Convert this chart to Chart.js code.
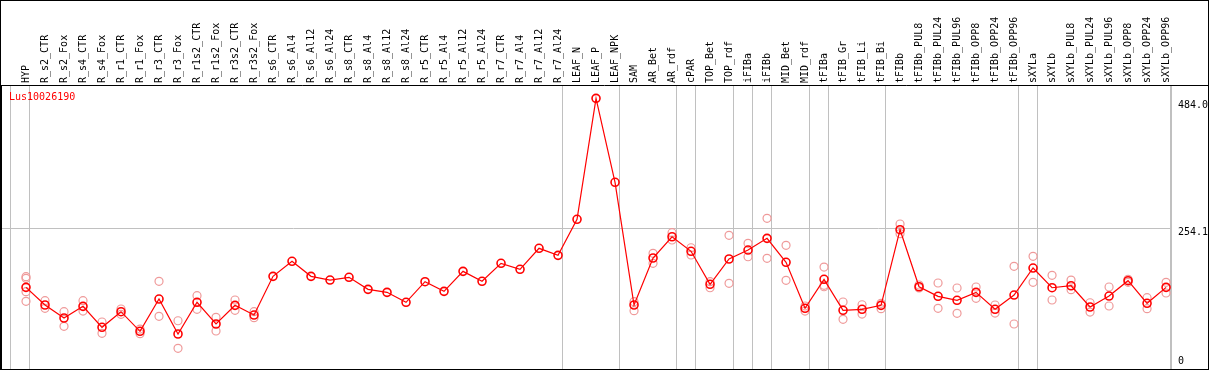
<!DOCTYPE html>
<html>
<head>
<meta charset="utf-8">
<script src="https://cdn.jsdelivr.net/npm/chart.js@4/dist/chart.umd.min.js"></script>
<style>
  html, body { margin: 0; padding: 0; background: #fff; }
  #wrap { width: 1209px; height: 370px; }
</style>
</head>
<body>
<div id="wrap"><canvas id="chart" width="1209" height="370"></canvas></div>
<script>
const seriesLabel = 'Lus10026190';

const categories = [
    'HYP', 'R_s2_CTR', 'R_s2_Fox', 'R_s4_CTR', 'R_s4_Fox', 'R_r1_CTR', 'R_r1_Fox',
    'R_r3_CTR', 'R_r3_Fox', 'R_r1s2_CTR', 'R_r1s2_Fox', 'R_r3s2_CTR', 'R_r3s2_Fox',
    'R_s6_CTR', 'R_s6_Al4', 'R_s6_Al12', 'R_s6_Al24', 'R_s8_CTR', 'R_s8_Al4',
    'R_s8_Al12', 'R_s8_Al24', 'R_r5_CTR', 'R_r5_Al4', 'R_r5_Al12', 'R_r5_Al24',
    'R_r7_CTR', 'R_r7_Al4', 'R_r7_Al12', 'R_r7_Al24', 'LEAF_N', 'LEAF_P', 'LEAF_NPK',
    'SAM', 'AR_Bet', 'AR_rdf', 'cPAR', 'TOP_Bet', 'TOP_rdf', 'iFIBa', 'iFIBb',
    'MID_Bet', 'MID_rdf', 'tFIBa', 'tFIB_Gr', 'tFIB_Li', 'tFIB_Bi', 'tFIBb',
    'tFIBb_PUL8', 'tFIBb_PUL24', 'tFIBb_PUL96', 'tFIBb_OPP8', 'tFIBb_OPP24', 'tFIBb_OPP96',
    'sXYLa', 'sXYLb', 'sXYLb_PUL8', 'sXYLb_PUL24', 'sXYLb_PUL96', 'sXYLb_OPP8',
    'sXYLb_OPP24', 'sXYLb_OPP96'
];

// mean expression per sample
const meanValues = [
    147.5, 115.6, 92.1, 113.2, 75.3, 103.5, 68.1, 126.4, 63.2, 120.5, 81.3, 115.0, 97.5,
    167.4, 194.5, 167.4, 160.7, 165.6, 143.9, 138.5, 120.5, 157.7, 140.3, 176.4, 158.4,
    190.9, 180.1, 218.0, 205.3, 270.4, 488.9, 337.2,
    115.6, 200.5, 238.9, 212.6, 153.0, 198.7, 214.9, 236.0, 192.7, 109.6,
    162.0, 106.0, 107.8, 115.0, 251.6, 148.6, 131.3, 124.1, 138.5, 107.8, 133.6,
    182.4, 146.8, 150.4, 112.0, 131.8, 159.5, 118.7, 147.5
];

// single replicates (empty where only one sample)
const replicateValues = [
    [166.7, 163.8, 139.6, 122.3], [123.4, 109.6], [103.5, 77.1], [123.4, 104.7],
    [84.9, 64.5], [108.4, 98.8], [72.2, 63.8], [158.4, 95.2], [87.2, 37.4],
    [132.4, 107.8], [93.4, 68.6], [124.6, 106.0], [103.5, 92.7],
    [], [], [], [], [], [], [], [], [], [], [], [], [], [], [], [], [], [], [],
    [121.6, 105.3], [209.0, 190.9], [246.2, 233.0], [219.0, 205.9], [157.7, 146.8],
    [241.5, 154.8], [227.0, 202.8], [272.2, 199.9], [223.4, 160.2], [113.8, 104.7],
    [184.2, 151.2, 148.6], [121.0, 89.8], [116.1, 99.3], [118.7, 108.9], [261.9, 244.4],
    [151.7, 146.3], [155.3, 109.6], [146.3, 100.6], [148.1, 127.7], [115.6, 101.1],
    [185.5, 81.3], [203.5, 156.6], [169.2, 124.6], [160.7, 143.2], [119.7, 102.9],
    [148.1, 113.8], [162.0, 156.6], [128.8, 108.9], [156.6, 137.3]
];

const yTickLabels = [0, 254.1, 484.0];
const groupEnds = [-1, 0, 28, 31, 34, 35, 37, 38, 39, 41, 42, 45, 52, 53, 60];

const monoFont = { family: 'DejaVu Sans Mono', size: 10 };

function noPadding(axis) {
    axis.paddingLeft = 0;
    axis.paddingRight = 0;
    axis.paddingTop = 0;
    axis.paddingBottom = 0;
}

// frame + series name, like the original viewer
const framePlugin = {
    id: 'frame',
    afterDraw(chart) {
        const { ctx, chartArea } = chart;
        ctx.save();
        ctx.strokeStyle = '#000';
        ctx.lineWidth = 1;
        ctx.strokeRect(0.5, 0.5, chart.width - 1, chart.height - 1);
        ctx.beginPath();
        ctx.moveTo(0, chartArea.top + 0.5);
        ctx.lineTo(chart.width, chartArea.top + 0.5);
        ctx.moveTo(chartArea.left + 0.5, chartArea.top);
        ctx.lineTo(chartArea.left + 0.5, chart.height);
        ctx.stroke();
        ctx.fillStyle = '#ff0000';
        ctx.font = '10px "DejaVu Sans Mono"';
        ctx.textBaseline = 'middle';
        ctx.fillText(chart.data.datasets[0].label, chartArea.left + 8, chartArea.top + 12);
        ctx.restore();
    }
};

const ctx = document.getElementById('chart').getContext('2d');
new Chart(ctx, {
    type: 'line',
    data: {
        datasets: [{
            label: seriesLabel,
            data: meanValues.map((v, i) => ({ x: i, y: v })),
            borderColor: '#ff0000',
            borderWidth: 1.2,
            pointRadius: 4,
            pointBorderWidth: 1.6,
            pointBorderColor: '#ff0000',
            pointBackgroundColor: 'rgba(0,0,0,0)',
            xAxisID: 'x',
            yAxisID: 'y'
        }, {
            label: 'replicates',
            data: replicateValues.flatMap((reps, i) => reps.map(v => ({ x: i, y: v }))),
            showLine: false,
            pointRadius: 4,
            pointBorderWidth: 1.2,
            pointBorderColor: '#ef9a9a',
            pointBackgroundColor: 'rgba(0,0,0,0)',
            xAxisID: 'x',
            yAxisID: 'y'
        }]
    },
    options: {
        responsive: false,
        animation: false,
        layout: { autoPadding: false, padding: { left: 1, bottom: 1 } },
        plugins: {
            legend: { display: false },
            tooltip: { enabled: false }
        },
        scales: {
            x: {
                type: 'linear',
                position: 'top',
                min: -1.316,
                max: 60.26,
                weight: 1,
                afterBuildTicks: axis => { axis.ticks = categories.map((c, i) => ({ value: i })); },
                afterFit: axis => { axis.height = 85; noPadding(axis); },
                grid: { display: false },
                border: { display: false },
                ticks: {
                    autoSkip: false,
                    minRotation: 90,
                    maxRotation: 90,
                    padding: -6,
                    labelOffset: 12,
                    color: '#000',
                    font: monoFont,
                    callback: v => categories[v]
                }
            },
            xGrid: {
                type: 'linear',
                position: 'top',
                min: -1.316,
                max: 60.26,
                weight: 0,
                afterBuildTicks: axis => { axis.ticks = groupEnds.map(g => ({ value: g + 0.21 })); },
                afterFit: axis => { axis.height = 0; noPadding(axis); },
                grid: { color: '#c0c0c0', lineWidth: 1, drawTicks: false },
                border: { display: false },
                ticks: { display: false }
            },
            y: {
                position: 'right',
                min: 0,
                max: 513,
                afterBuildTicks: axis => { axis.ticks = yTickLabels.map(v => ({ value: v })); },
                afterFit: axis => { axis.width = 38; noPadding(axis); },
                grid: {
                    color: c => (c.tick && c.tick.value === 254.1 ? '#c0c0c0' : 'rgba(0,0,0,0)'),
                    drawTicks: false
                },
                border: { color: '#c0c0c0' },
                ticks: {
                    padding: 7,
                    labelOffset: 4,
                    color: '#000',
                    font: monoFont,
                    // the 0 label sits just above the bottom edge
                    callback: v => (v === 0 ? ['0', '', ''] : v.toFixed(1))
                }
            }
        }
    },
    plugins: [framePlugin]
});
</script>
</body>
</html>
